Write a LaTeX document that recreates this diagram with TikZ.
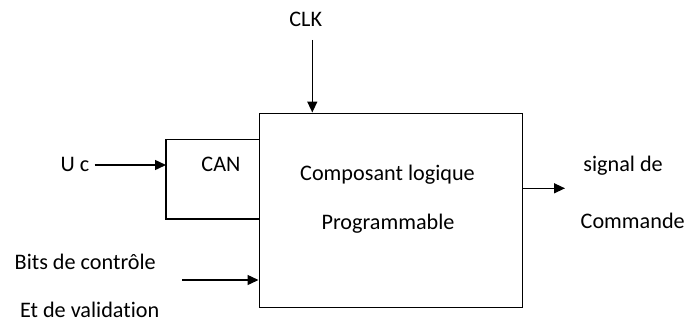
\documentclass[tikz,border=0pt]{standalone}
\usepackage{fontspec}
\setmainfont{Carlito}[Ligatures={NoCommon}]
\usetikzlibrary{arrows.meta}
\begin{document}
\begin{tikzpicture}[x=1pt,y=-1pt,
  line width=1.4pt,
  lbl/.style={inner sep=0pt,font=\fontsize{22.2}{26}\selectfont},
  arr/.style={-{Triangle[length=11pt,width=10pt]}}]
\useasboundingbox (0,0) rectangle (687,322);

% programmable logic block
\node[draw,minimum width=263pt,minimum height=194pt,inner sep=0pt,anchor=north west]
  (main) at (258.5,112.5) {};
\node[lbl,anchor=base] (comp) at (387.5,180) {Composant logique};
\node[lbl,anchor=base] (prog) at (388,229) {Programmable};

% converter frame, open on the block side
\coordinate (cantl) at (166,139.5);
\coordinate (canbl) at (166,219);
\draw (main.west |- cantl) -- (cantl) -- (canbl) -- (main.west |- canbl);
\node[lbl,anchor=base] (can) at (221,171.7) {CAN};

% analog input
\node[lbl,anchor=base west] (uc) at (60,171.7) {U c};
\coordinate (ucin) at (166,165);
\draw[arr] (ucin -| uc.east) ++(4.5,0) -- (ucin);

% clock
\node[lbl,anchor=base] (clk) at (305.7,26) {CLK};
\coordinate (clkin) at (312.3,112.5);
\draw[arr] (clkin |- clk.south) ++(0,13) -- (clkin);

% output
\coordinate (sigout) at (565,188.3);
\draw[arr] (main.east |- sigout) -- (sigout);
\node[lbl,anchor=base west] (sig1) at (582.7,171.7) {signal de};
\node[lbl,anchor=base west] (sig2) at (580,228.3) {Commande};

% control and enable bits
\node[lbl,anchor=base west] (bits1) at (14,269.3) {Bits de contrôle};
\node[lbl,anchor=base west] (bits2) at (19.3,317) {Et de validation};
\coordinate (bitsin) at (182,280);
\draw[arr] (bitsin) -- (main.west |- bitsin);
\end{tikzpicture}
\end{document}
